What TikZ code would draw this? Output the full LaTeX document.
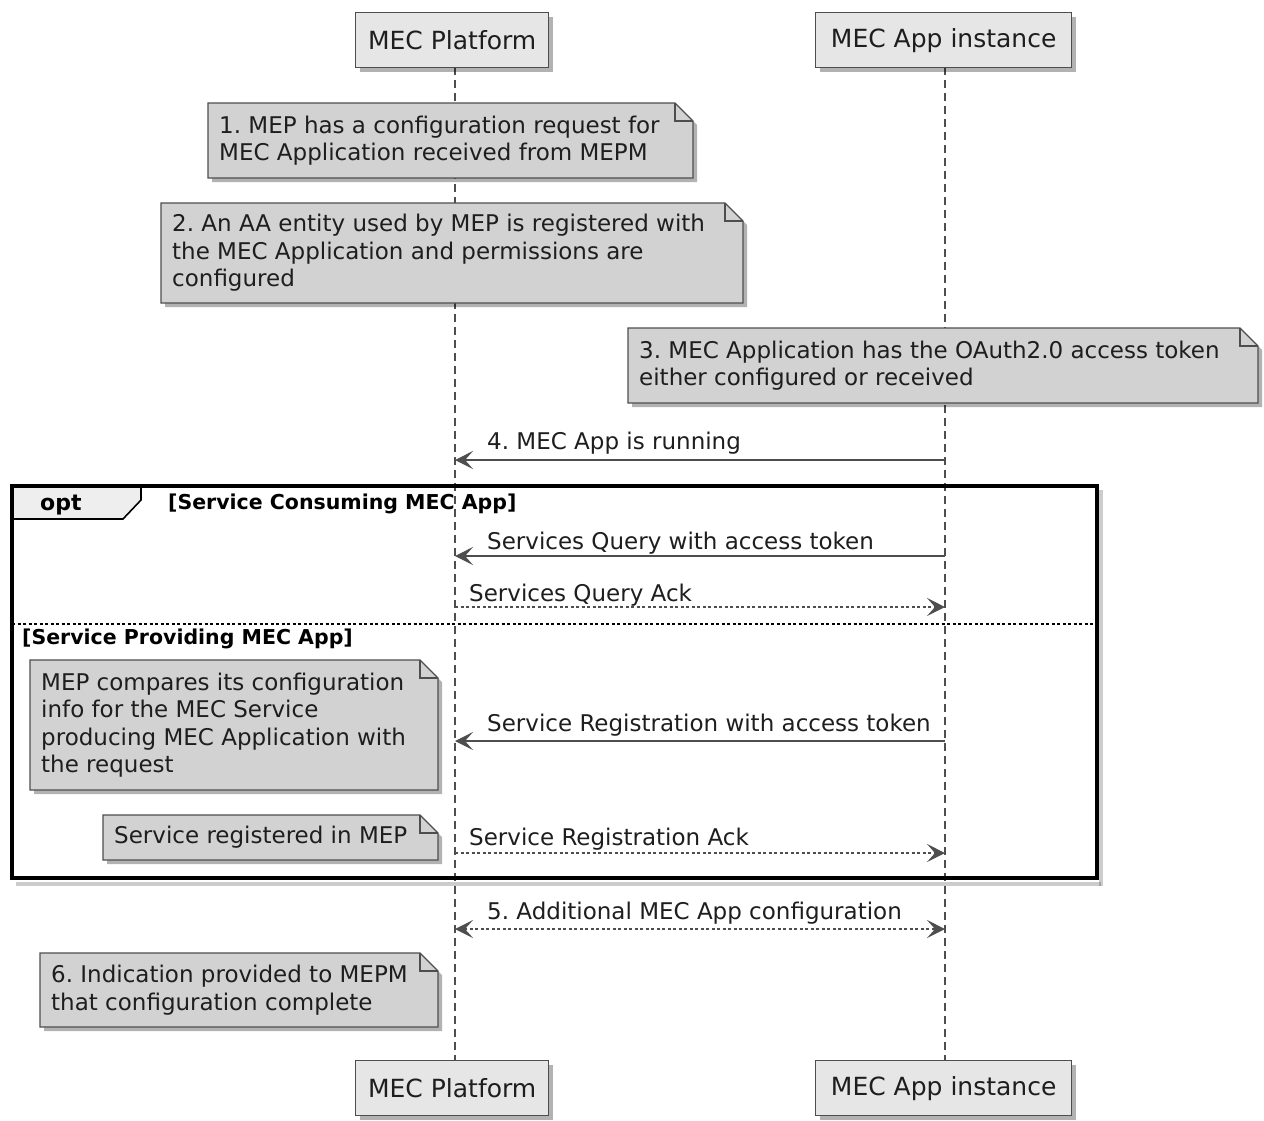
\documentclass[tikz,border=0pt]{standalone}
\usepackage{fontspec}
\setmainfont{DejaVu Sans}
\usetikzlibrary{arrows.meta,shadows}
\definecolor{partfill}{RGB}{230,230,230}
\definecolor{notefill}{RGB}{210,210,210}
\definecolor{edge}{RGB}{78,78,78}
\definecolor{txt}{RGB}{30,30,30}
\definecolor{tabfill}{RGB}{238,238,238}
\newcommand\fsmain{\fontsize{23}{27.5}\selectfont\frenchspacing}
\newcommand\fspart{\fontsize{25}{29}\selectfont}
\newcommand\fsguard{\fontsize{20.5}{24}\selectfont\bfseries}
\newcommand\mynote[6]{%
  \path[notebox] (#2,#3) -- (#4-18,#3) -- (#4,#3+18) -- (#4,#5) -- (#2,#5) -- cycle;
  \draw[edge, line width=1.2pt] (#4-18,#3) -- (#4-18,#3+18) -- (#4,#3+18);
  \node[notetext] (#1) at (#2,{(#3+#5)/2}) {#6};
}
\begin{document}
\frenchspacing
\begin{tikzpicture}[x=1pt,y=-1pt,
  shd/.style={drop shadow={shadow xshift=4pt, shadow yshift=-4pt, fill=black, opacity=.3}},
  part/.style={draw=edge, line width=1.4pt, fill=partfill, inner sep=0pt, minimum height=55pt, font=\fspart, text=txt, anchor=north west, shd},
  notebox/.style={draw=edge, line width=1.2pt, fill=notefill, shd},
  notetext/.style={align=left, inner xsep=11pt, inner ysep=0pt, anchor=west, font=\fsmain, text=txt},
  life/.style={draw=edge, line width=1.3pt, dash pattern=on 8pt off 5pt},
  tipx/.style={Stealth[length=18pt,width=18pt,inset=8pt]},
  msg/.style={draw=edge, line width=1.5pt, -{Stealth[length=18pt,width=18pt,inset=8pt]}},
  reply/.style={msg, dash pattern=on 3pt off 2.5pt},
  lbl/.style={anchor=base west, inner sep=0pt, font=\fsmain, text=txt},
  guard/.style={anchor=base west, inner sep=0pt, font=\fsguard, text=black}]
\useasboundingbox (0,0) rectangle (1264,1120);
\fill[white] (0,0) rectangle (1264,1120);

% lifelines
\coordinate (lpT) at (455,67);
\coordinate (lpB) at (455,1060);
\coordinate (laT) at (945,67);
\coordinate (laB) at (945,1060);
\draw[life] (lpT) -- (lpB);
\draw[life] (laT) -- (laB);

% participants
\node[part, minimum width=193pt] (mpT) at (355,12) {MEC Platform};
\node[part, minimum width=256pt] (maT) at (815,12) {MEC App instance};
\node[part, minimum width=193pt] (mpB) at (355,1060) {MEC Platform};
\node[part, minimum width=256pt] (maB) at (815,1060) {MEC App instance};

% notes
\mynote{n1}{208}{103}{693}{178}{1. MEP has a configuration request for\\MEC Application received from MEPM}
\mynote{n2}{161}{203}{743}{303}{2. An AA entity used by MEP is registered with\\the MEC Application and permissions are\\configured}
\mynote{n3}{628}{328}{1258}{403}{3. MEC Application has the OAuth2.0 access token\\either configured or received}

% message 4
\coordinate (p4) at (455,460);
\coordinate (a4) at (945,460);
\draw[msg] (a4) -- (p4);
\node[lbl] (l4) at (487,449) {4. MEC App is running};

% opt frame
\fill[black, opacity=.2] (16,882) rectangle (1101,886);
\fill[black, opacity=.2] (1099,490) rectangle (1103,886);
\path[fill=tabfill, draw=black, line width=1.6pt] (12,486) -- (141,486) -- (141,500) -- (123,519) -- (12,519) -- cycle;
\draw[black, line width=3.5pt] (12,486) rectangle (1097,878);
\node[anchor=base west, inner sep=0pt, font=\fontsize{22}{26}\selectfont\bfseries] (optl) at (40,510) {opt};
\node[guard] (g1) at (168,509) {[Service Consuming MEC App]};

\coordinate (p5) at (455,556);
\coordinate (a5) at (945,556);
\draw[msg] (a5) -- (p5);
\node[lbl] (l5) at (487,549) {Services Query with access token};

\coordinate (p6) at (455,607);
\coordinate (a6) at (945,607);
\draw[reply] (p6) -- (a6);
\node[lbl] (l6) at (469,601) {Services Query Ack};

\coordinate (s1) at (12,624);
\coordinate (s2) at (1097,624);
\draw[black, line width=1.3pt, dash pattern=on 3pt off 2.5pt] (s1) -- (s2);
\node[guard] (g2) at (22,644) {[Service Providing MEC App]};

\mynote{n4}{30}{660}{438}{790}{MEP compares its configuration\\info for the MEC Service\\producing MEC Application with\\the request}

\coordinate (p7) at (455,741);
\coordinate (a7) at (945,741);
\draw[msg] (a7) -- (p7);
\node[lbl] (l7) at (487,731) {Service Registration with access token};

\mynote{n5}{103}{815}{438}{860}{Service registered in MEP}

\coordinate (p8) at (455,853);
\coordinate (a8) at (945,853);
\draw[reply] (p8) -- (a8);
\node[lbl] (l8) at (469,845) {Service Registration Ack};

% message 5
\coordinate (p9) at (455,929);
\coordinate (a9) at (945,929);
\draw[reply, {Stealth[length=18pt,width=18pt,inset=8pt]}-{Stealth[length=18pt,width=18pt,inset=8pt]}] (p9) -- (a9);
\node[lbl] (l9) at (487,919) {5. Additional MEC App configuration};

\mynote{n6}{40}{953}{438}{1027}{6. Indication provided to MEPM\\that configuration complete}
\end{tikzpicture}
\end{document}
